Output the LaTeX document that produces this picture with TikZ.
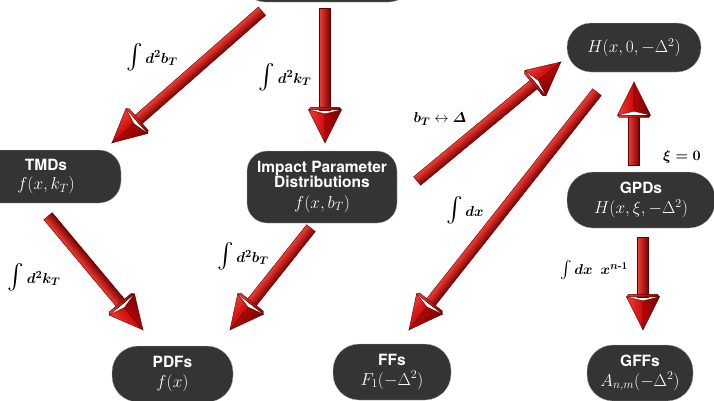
\documentclass[tikz,border=0pt]{standalone}
\usepackage{amsmath}
\usepackage{fontspec}
\newfontfamily\boxfont{TeX Gyre Heros}
\usetikzlibrary{calc}

\definecolor{boxgray}{RGB}{52,52,52}
\definecolor{arrlight}{RGB}{240,60,52}
\definecolor{arrmid}{RGB}{205,8,8}
\definecolor{arrdark}{RGB}{118,0,0}
\definecolor{arredge}{RGB}{95,0,0}

% arrow geometry (pt)
\def\headlen{33}
\def\headw{16.5}
\def\shaftw{5.5}

\newcommand\labint{{\fontsize{25}{25}\selectfont$\int$}\,}
\newcommand\boxmath[1]{{\fontsize{17.5}{17}\selectfont#1}}

% thick shaded arrow from coordinate #1 (tail) to coordinate #2 (tip)
\newcommand\fatarrow[2]{%
  \path let \p1=(#1), \p2=(#2) in \pgfextra{%
    \pgfmathsetmacro\faang{atan2(\y2-\y1,\x2-\x1)}%
    \pgfmathsetmacro\falen{veclen(\x2-\x1,\y2-\y1)}%
    \pgfmathsetmacro\faside{((sin(\faang)+cos(\faang))>0) ? 1 : -1}%
    \xdef\faang{\faang}\xdef\falen{\falen}\xdef\faside{\faside}};
  \begin{scope}[x=1pt,y=1pt,transform canvas={shift={(#1)},rotate=\faang,yscale=\faside}]
    \pgfmathsetmacro\fabase{\falen-\headlen}
    \shade[top color=arrlight, middle color=arrmid, bottom color=arrdark,
           draw=arredge, line width=0.4pt]
      (0,-\shaftw) rectangle (\fabase,\shaftw);
    % back rim of the head
    \shade[top color=arrlight, bottom color=arrdark, draw=arredge, line width=0.3pt]
      (\fabase,\headw) -- (\fabase-2.5,\headw-2) -- (\fabase-2.5,-\headw+2)
      -- (\fabase,-\headw) -- cycle;
    \shade[top color=arrlight, bottom color=arrmid, draw=arredge, line width=0.4pt]
      (\falen,0) -- (\fabase,\headw) -- (\fabase+4,0) -- cycle;
    \shade[top color=arrmid!85!black, bottom color=arrdark, draw=arredge, line width=0.4pt]
      (\falen,0) -- (\fabase+4,0) -- (\fabase,-\headw) -- cycle;
  \end{scope}
}

\tikzset{
  box/.style={fill=boxgray, draw=gray!55, line width=0.3pt, rounded corners=22pt,
    text=white, align=center, inner sep=0pt,
    font=\boxfont\bfseries\fontsize{15.5}{17}\selectfont},
  lab/.style={inner sep=0pt, text=black, font=\fontsize{15}{17}\selectfont},
}

\begin{document}
\begin{tikzpicture}[x=1pt,y=-1pt]
  \useasboundingbox (0,0) rectangle (714,400);
  \clip (0,0) rectangle (714,400);

  % boxes
  \node[box, minimum width=168, minimum height=60] (top) at (327,-28) {};
  \node[box, minimum width=150, minimum height=53] (tmd) at (46,176.5)
    {TMDs\\[2.5pt]\boxmath{$f(x,k_T)$}};
  \node[box, minimum width=150, minimum height=72, rounded corners=20pt] (ipd) at (322,187)
    {Impact Parameter\\[-2pt]Distributions\\[3.5pt]\boxmath{$f(x,b_T)$}};
  \node[box, minimum width=134, minimum height=49, rounded corners=24pt] (h0) at (634,47.5)
    {{\fontsize{18}{18}\selectfont$H(x,0,-\Delta^2)$}};
  \node[box, minimum width=148, minimum height=56, rounded corners=26pt] (gpd) at (641,200)
    {GPDs\\[2.5pt]\boxmath{$H(x,\xi,-\Delta^2)$}};
  \node[box, minimum width=121, minimum height=56, rounded corners=26pt] (pdf) at (172.5,374)
    {PDFs\\[2.5pt]\boxmath{$f(x)$}};
  \node[box, minimum width=118, minimum height=56, rounded corners=26pt] (ff) at (392,372)
    {FFs\\[2.5pt]\boxmath{$F_1(-\Delta^2)$}};
  \node[box, minimum width=106, minimum height=56, rounded corners=26pt] (gff) at (640,373)
    {GFFs\\[2.5pt]\boxmath{$A_{n,m}(-\Delta^2)$}};

  % arrow ends
  \coordinate (a1s) at ($(top.south)+(-65,9)$);
  \coordinate (a1e) at ($(tmd.north)+(66,-7)$);
  \coordinate (a2s) at ($(top.south)+(-2,6)$);
  \coordinate (a2e) at ($(ipd.north)+(3,-8)$);
  \coordinate (a3s) at ($(tmd.south)+(2,13)$);
  \coordinate (a3e) at ($(pdf.north)+(-29.5,-16)$);
  \coordinate (a4s) at ($(ipd.south)+(-11,5)$);
  \coordinate (a4e) at ($(pdf.north)+(57.5,-16)$);
  \coordinate (a5s) at ($(ipd.east)+(20,-6)$);
  \coordinate (a5e) at ($(h0.west)+(-6,14.5)$);
  \coordinate (a6s) at ($(h0.south)+(-37,20)$);
  \coordinate (a6e) at ($(ff.north)+(17,-14)$);
  \coordinate (a7s) at ($(gpd.north)+(-7,-7)$);
  \coordinate (a7e) at ($(h0.south)+(0,10)$);
  \coordinate (a8s) at ($(gpd.south)+(2,9)$);
  \coordinate (a8e) at ($(gff.north)+(3,-15)$);

  % arrows
  \fatarrow{a1s}{a1e}
  \fatarrow{a2s}{a2e}
  \fatarrow{a3s}{a3e}
  \fatarrow{a4s}{a4e}
  \fatarrow{a5s}{a5e}
  \fatarrow{a6s}{a6e}
  \fatarrow{a7s}{a7e}
  \fatarrow{a8s}{a8e}

  % arrow labels
  \node[lab] (l1) at (152,57) {\labint$\boldsymbol{d^2b_T}$};
  \node[lab] (l2) at (285,77) {\labint$\boldsymbol{d^2k_T}$};
  \node[lab] (l3) at (34,277) {\labint$\boldsymbol{d^2k_T}$};
  \node[lab] (l4) at (243,256) {\labint$\boldsymbol{d^2b_T}$};
  \node[lab] (l5) at (440,119) {$\boldsymbol{b_T}\leftrightarrow\boldsymbol{\varDelta}$};
  \node[lab] (l6) at (682,157) {$\boldsymbol{\xi=0}$};
  \node[lab] (l7) at (465,210) {\labint$\boldsymbol{dx}$};
  \node[lab] (l8) at (594,270) {{\fontsize{17}{17}\selectfont$\int$}\,$\boldsymbol{dx}\;\;\boldsymbol{x}^{\boldsymbol{n}\textbf{-}\mathbf{1}}$};
\end{tikzpicture}
\end{document}
